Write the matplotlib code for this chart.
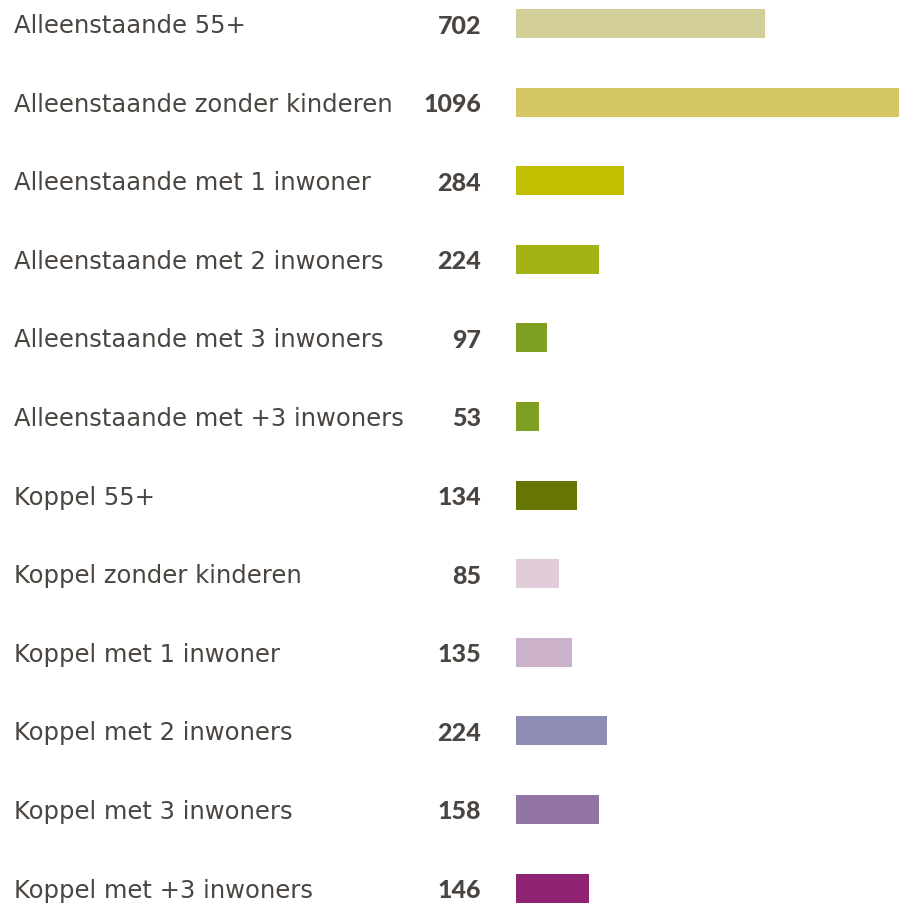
import matplotlib.pyplot as plt

labels = [
    "Alleenstaande 55+",
    "Alleenstaande zonder kinderen",
    "Alleenstaande met 1 inwoner",
    "Alleenstaande met 2 inwoners",
    "Alleenstaande met 3 inwoners",
    "Alleenstaande met +3 inwoners",
    "Koppel 55+",
    "Koppel zonder kinderen",
    "Koppel met 1 inwoner",
    "Koppel met 2 inwoners",
    "Koppel met 3 inwoners",
    "Koppel met +3 inwoners",
]
counts = [702, 1096, 284, 224, 97, 53, 134, 85, 135, 224, 158, 146]
# bar lengths as drawn in the original (not proportional to the counts)
bar_lengths = [249, 383, 108, 83, 31, 23, 61, 43, 56, 91, 83, 73]
colors = ["#d1ce97", "#d4c763", "#c1bf00", "#a3b313", "#7f9f22", "#7f9f22",
          "#677505", "#e0cdd9", "#cbb1c9", "#8e8db6", "#9274a5", "#902374"]

W, H = 899, 904
fig = plt.figure(figsize=(W / 100, H / 100), dpi=100)

# bars live in their own axes on the right
row0, step = 24.5, 78.6
n = len(labels)
top = row0 - step / 2
bottom = row0 + step * (n - 1) + step / 2
ax = fig.add_axes([516 / W, 1 - bottom / H, (W - 516) / W, (bottom - top) / H])
ys = list(range(n))
ax.barh(ys, bar_lengths, height=29 / step, color=colors, left=0)
ax.set_xlim(0, 383)
ax.set_ylim(n - 0.5, -0.5)
ax.axis("off")

txt = "#4a4540"
for i, (lab, c) in enumerate(zip(labels, counts)):
    y = 1 - (row0 + step * i + 1.5) / H
    fig.text(14 / W, y, lab, ha="left", va="center", fontsize=17.5,
             color=txt, family="DejaVu Sans")
    fig.text(481 / W, y, str(c), ha="right", va="center", fontsize=18,
             color=txt, family="Lato", fontweight="black")

fig.savefig("out.png", dpi=100)
